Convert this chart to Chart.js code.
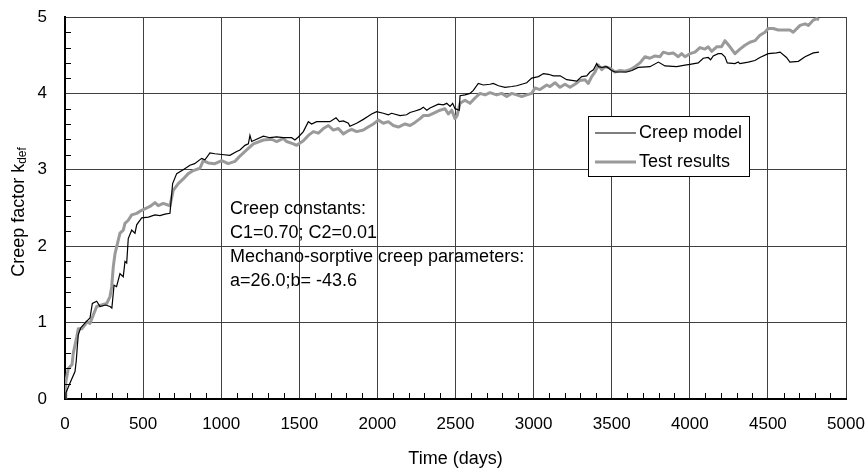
<!DOCTYPE html>
<html>
<head>
<meta charset="utf-8">
<script src="https://cdn.jsdelivr.net/npm/chart.js@4/dist/chart.umd.min.js"></script>
<style>
  html, body { margin: 0; padding: 0; background: #fff; }
  canvas { display: block; }
</style>
</head>
<body>
<canvas id="creepChart" width="867" height="470"></canvas>
<script>
// creep model (black line)
const modelDays = [
  0, 6, 30, 64, 72, 79, 85, 100, 130, 160,
  175, 203, 224, 260, 288, 300, 314, 330, 352, 373,
  384, 395, 405, 427, 448, 459, 491, 534, 576, 608,
  640, 672, 689, 715, 757, 800, 830, 875, 896, 928,
  960, 1003, 1056, 1099, 1120, 1152, 1174, 1184, 1195, 1216,
  1270, 1312, 1355, 1398, 1451, 1472, 1494, 1526, 1558, 1579,
  1611, 1696, 1735, 1757, 1782, 1814, 1824, 1867, 1910, 1941,
  1963, 1995, 2038, 2070, 2091, 2145, 2187, 2209, 2241, 2273,
  2294, 2316, 2337, 2390, 2422, 2444, 2465, 2482, 2497, 2524,
  2529, 2561, 2593, 2614, 2646, 2678, 2721, 2742, 2775, 2817,
  2860, 2892, 2924, 2956, 2988, 3031, 3063, 3095, 3127, 3170,
  3212, 3276, 3308, 3340, 3361, 3383, 3404, 3415, 3436, 3468,
  3500, 3521, 3553, 3596, 3630, 3670, 3745, 3799, 3841, 3916,
  3969, 4001, 4054, 4086, 4118, 4133, 4150, 4182, 4203, 4225,
  4240, 4289, 4310, 4321, 4374, 4417, 4449, 4502, 4555, 4578,
  4619, 4641, 4695, 4738, 4791, 4827
];
const modelK = [
  0, 0.08, 0.20, 0.36, 0.50, 0.69, 0.84, 0.93, 1.00, 1.06,
  1.25, 1.28, 1.21, 1.23, 1.21, 1.19, 1.49, 1.47, 1.64, 1.60,
  1.80, 1.78, 2.10, 2.21, 2.17, 2.28, 2.37, 2.38, 2.41, 2.40,
  2.42, 2.43, 2.82, 2.95, 3.00, 3.06, 3.08, 3.15, 3.13, 3.22,
  3.21, 3.20, 3.19, 3.24, 3.26, 3.32, 3.34, 3.45, 3.37, 3.39,
  3.44, 3.42, 3.43, 3.42, 3.42, 3.39, 3.43, 3.50, 3.63, 3.60,
  3.63, 3.63, 3.68, 3.63, 3.64, 3.61, 3.57, 3.61, 3.66, 3.70,
  3.73, 3.76, 3.74, 3.72, 3.74, 3.71, 3.72, 3.75, 3.77, 3.79,
  3.82, 3.78, 3.81, 3.86, 3.85, 3.87, 3.83, 3.87, 3.80, 3.78,
  3.97, 3.98, 4.00, 4.04, 4.13, 4.11, 4.12, 4.13, 4.10, 4.08,
  4.09, 4.10, 4.12, 4.14, 4.20, 4.22, 4.26, 4.25, 4.23, 4.23,
  4.18, 4.16, 4.22, 4.23, 4.28, 4.31, 4.39, 4.35, 4.34, 4.35,
  4.30, 4.28, 4.28, 4.28, 4.30, 4.34, 4.35, 4.41, 4.36, 4.35,
  4.37, 4.38, 4.40, 4.46, 4.47, 4.44, 4.49, 4.52, 4.52, 4.48,
  4.40, 4.39, 4.41, 4.39, 4.41, 4.43, 4.47, 4.52, 4.53, 4.54,
  4.47, 4.41, 4.42, 4.48, 4.53, 4.54
];

// test results (grey line)
const testDays = [
  0, 5, 21, 45, 53, 75, 85, 107, 128, 139,
  160, 181, 203, 235, 267, 288, 299, 309, 320, 341,
  352, 373, 384, 405, 427, 459, 491, 544, 576, 597,
  629, 672, 693, 725, 757, 789, 821, 864, 885, 917,
  960, 1003, 1045, 1088, 1120, 1163, 1206, 1270, 1323, 1355,
  1398, 1419, 1462, 1483, 1526, 1558, 1590, 1622, 1654, 1686,
  1718, 1750, 1782, 1814, 1835, 1867, 1910, 1941, 1974, 2006,
  2038, 2070, 2102, 2134, 2177, 2209, 2241, 2273, 2294, 2326,
  2358, 2401, 2433, 2454, 2476, 2497, 2510, 2529, 2561, 2593,
  2625, 2657, 2689, 2721, 2763, 2796, 2828, 2860, 2892, 2924,
  2956, 2988, 3009, 3041, 3084, 3105, 3137, 3169, 3201, 3233,
  3265, 3297, 3329, 3350, 3372, 3393, 3415, 3436, 3457, 3489,
  3521, 3553, 3585, 3617, 3649, 3681, 3713, 3745, 3777, 3809,
  3830, 3862, 3894, 3926, 3948, 3969, 4001, 4033, 4065, 4097,
  4118, 4140, 4172, 4203, 4225, 4257, 4289, 4321, 4353, 4385,
  4417, 4449, 4481, 4502, 4534, 4566, 4598, 4641, 4662, 4706,
  4738, 4759, 4791, 4812, 4827
];
const testK = [
  0, 0.22, 0.40, 0.45, 0.60, 0.81, 0.92, 0.92, 0.97, 1.01,
  0.99, 1.10, 1.21, 1.23, 1.25, 1.34, 1.47, 1.73, 1.90, 2.08,
  2.17, 2.21, 2.30, 2.34, 2.41, 2.43, 2.47, 2.52, 2.57, 2.53,
  2.56, 2.53, 2.73, 2.82, 2.88, 2.95, 2.99, 3.02, 3.12, 3.09,
  3.08, 3.12, 3.08, 3.11, 3.18, 3.26, 3.34, 3.39, 3.40, 3.37,
  3.41, 3.37, 3.34, 3.32, 3.38, 3.45, 3.50, 3.48, 3.54, 3.58,
  3.52, 3.54, 3.47, 3.51, 3.53, 3.50, 3.52, 3.56, 3.60, 3.65,
  3.61, 3.63, 3.58, 3.56, 3.60, 3.58, 3.62, 3.67, 3.71, 3.71,
  3.74, 3.78, 3.80, 3.73, 3.78, 3.67, 3.71, 3.87, 3.91, 3.87,
  3.94, 4.00, 3.98, 4.01, 3.98, 4.00, 3.96, 4.00, 3.98, 3.96,
  3.98, 4.00, 4.07, 4.05, 4.11, 4.09, 4.14, 4.08, 4.12, 4.08,
  4.12, 4.17, 4.18, 4.13, 4.22, 4.28, 4.37, 4.31, 4.35, 4.33,
  4.28, 4.30, 4.29, 4.31, 4.35, 4.40, 4.48, 4.46, 4.49, 4.48,
  4.54, 4.52, 4.53, 4.48, 4.52, 4.48, 4.52, 4.54, 4.60, 4.58,
  4.61, 4.55, 4.61, 4.61, 4.69, 4.61, 4.52, 4.58, 4.63, 4.67,
  4.69, 4.76, 4.80, 4.85, 4.85, 4.83, 4.83, 4.83, 4.80, 4.89,
  4.91, 4.89, 4.96, 4.98, 4.96
];

const seriesNames = ["Creep model", "Test results"];
const xTicks = [0, 500, 1000, 1500, 2000, 2500, 3000, 3500, 4000, 4500, 5000];
const yTicks = [0, 1, 2, 3, 4, 5];
const notes = [
  "Creep constants:",
  "C1=0.70; C2=0.01",
  "Mechano-sorptive creep parameters:",
  "a=26.0;b= -43.6"
];

const FONT = "'Liberation Sans', Arial, sans-serif";
Chart.defaults.font.family = FONT;
Chart.defaults.color = "#000";

const toPoints = (xs, ys) => xs.map((d, i) => ({ x: d, y: ys[i] }));

// minor ticks, legend box, text block and y title
const extras = {
  id: "extras",
  afterDatasetsDraw(chart) {
    const { ctx, chartArea: a, scales: { x, y } } = chart;
    ctx.save();

    // inward minor ticks
    ctx.strokeStyle = "#000";
    ctx.lineWidth = 1;
    ctx.beginPath();
    for (let d = 100; d < 5000; d += 100) {
      if (d % 500 === 0) continue;
      const px = Math.round(x.getPixelForValue(d)) + 0.5;
      ctx.moveTo(px, a.bottom);
      ctx.lineTo(px, a.bottom - 6);
    }
    for (let i = 1; i < 25; i++) {
      if (i % 5 === 0) continue;
      const py = Math.round(y.getPixelForValue(i / 5)) + 0.5;
      ctx.moveTo(a.left, py);
      ctx.lineTo(a.left + 6, py);
    }
    ctx.stroke();

    // text block
    ctx.fillStyle = "#000";
    ctx.font = "18px " + FONT;
    ctx.textAlign = "left";
    ctx.textBaseline = "alphabetic";
    notes.forEach((t, i) => ctx.fillText(t, 230, 214 + i * 24));

    // legend
    ctx.fillStyle = "#fff";
    ctx.fillRect(588.5, 116.5, 161, 60);
    ctx.strokeStyle = "#000";
    ctx.lineWidth = 1;
    ctx.strokeRect(588.5, 116.5, 161, 60);
    chart.data.datasets.forEach((ds, i) => {
      const ly = 133 + i * 29;
      ctx.strokeStyle = ds.borderColor;
      ctx.lineWidth = ds.borderWidth;
      ctx.beginPath();
      ctx.moveTo(595, ly);
      ctx.lineTo(636, ly);
      ctx.stroke();
      ctx.fillStyle = "#000";
      ctx.fillText(ds.label, 639, ly + 5);
    });
    ctx.restore();
  },
  afterDraw(chart) {
    const { ctx } = chart;
    ctx.save();
    ctx.fillStyle = "#000";
    ctx.textBaseline = "alphabetic";
    ctx.textAlign = "left";
    ctx.font = "18px " + FONT;
    const main = "Creep factor k";
    const wMain = ctx.measureText(main).width;
    ctx.font = "12px " + FONT;
    const sub = "def";
    const wSub = ctx.measureText(sub).width;
    const total = wMain + wSub;
    ctx.translate(24, 212 + total / 2);
    ctx.rotate(-Math.PI / 2);
    ctx.font = "18px " + FONT;
    ctx.fillText(main, 0, 0);
    ctx.font = "12px " + FONT;
    ctx.fillText(sub, wMain, 1.5);
    ctx.restore();
  }
};

new Chart(document.getElementById("creepChart"), {
  type: "line",
  data: {
    datasets: [
      {
        label: seriesNames[0],
        data: toPoints(modelDays, modelK),
        borderColor: "#000000",
        borderWidth: 1.2,
        pointRadius: 0,
        tension: 0,
        fill: false
      },
      {
        label: seriesNames[1],
        data: toPoints(testDays, testK),
        borderColor: "#9a9a9a",
        borderWidth: 3,
        pointRadius: 0,
        tension: 0,
        fill: false,
        borderJoinStyle: "round"
      }
    ]
  },
  options: {
    responsive: false,
    animation: false,
    devicePixelRatio: 1,
    layout: { padding: { top: 17, right: 21, bottom: 0, left: 0 } },
    plugins: {
      legend: { display: false },
      tooltip: { enabled: false }
    },
    scales: {
      x: {
        type: "linear",
        min: 0,
        max: 5000,
        afterBuildTicks: s => { s.ticks = xTicks.map(v => ({ value: v })); },
        afterFit: s => {
          s.height = 71;
          s.paddingLeft = 0;
          s.paddingRight = 0;
        },
        grid: { color: "#404040", lineWidth: 1, drawTicks: false },
        border: { color: "#000", width: 2 },
        ticks: {
          font: { size: 17 },
          padding: 15,
          maxRotation: 0,
          autoSkip: false,
          callback: v => String(v)
        },
        title: {
          display: true,
          text: "Time (days)",
          font: { size: 18 },
          padding: { top: 0, bottom: 0 }
        }
      },
      y: {
        type: "linear",
        min: 0,
        max: 5,
        afterBuildTicks: s => { s.ticks = yTicks.map(v => ({ value: v })); },
        afterFit: s => {
          s.width = 65;
          s.paddingTop = 0;
          s.paddingBottom = 0;
        },
        grid: { color: "#404040", lineWidth: 1, drawTicks: false },
        border: { color: "#000", width: 2 },
        ticks: { font: { size: 17 }, padding: 18, callback: v => String(v) }
      }
    }
  },
  plugins: [extras]
});
</script>
</body>
</html>
